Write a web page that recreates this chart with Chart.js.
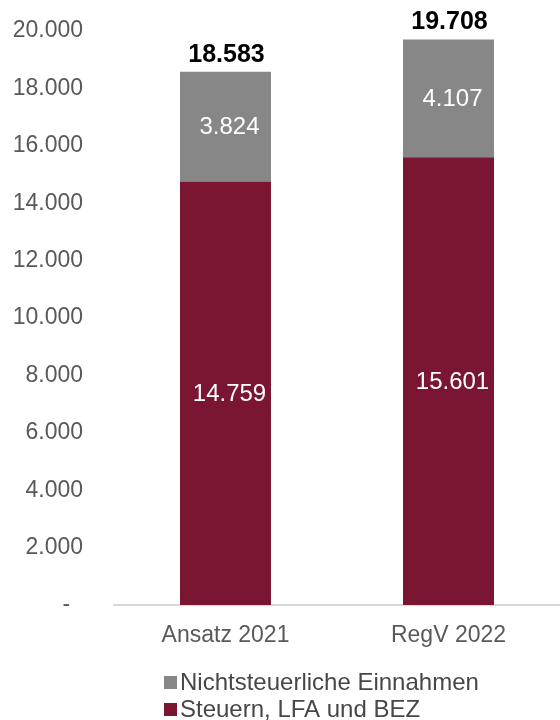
<!DOCTYPE html>
<html>
<head>
<meta charset="utf-8">
<script src="https://cdn.jsdelivr.net/npm/chart.js@4"></script>
<style>
  body { margin: 0; background: #fff; }
  #wrap { width: 560px; height: 720px; }
</style>
</head>
<body>
<div id="wrap"><canvas id="myChart" width="560" height="720"></canvas></div>
<script>
// data
const categories = ['Ansatz 2021', 'RegV 2022'];
const steuern = [14759, 15601];
const nichtsteuerlich = [3824, 4107];
const totals = [18583, 19708];
const yTicks = [0, 2000, 4000, 6000, 8000, 10000, 12000, 14000, 16000, 18000, 20000];

const legendNames = ['Nichtsteuerliche Einnahmen', 'Steuern, LFA und BEZ'];

const FONT = '"Liberation Sans", Arial, sans-serif';
const fmt = v => String(v).replace(/\B(?=(\d{3})+(?!\d))/g, '.');

// labels in the bars and totals on top
const labelPlugin = {
    id: 'labels',
    afterDatasetsDraw(chart) {
        const ctx = chart.ctx;
        ctx.save();
        ctx.textAlign = 'center';
        ctx.textBaseline = 'middle';
        ctx.fillStyle = '#ffffff';
        ctx.font = '24px ' + FONT;
        chart.data.datasets.forEach((ds, i) => {
            chart.getDatasetMeta(i).data.forEach((bar, j) => {
                ctx.fillText(fmt(ds.data[j]), bar.x + 4, (bar.y + bar.base) / 2 + 1);
            });
        });
        const y = chart.scales.y;
        const topMeta = chart.getDatasetMeta(1);
        ctx.fillStyle = '#000000';
        ctx.font = 'bold 25px ' + FONT;
        totals.forEach((t, j) => {
            ctx.fillText(fmt(t), topMeta.data[j].x + 1, y.getPixelForValue(t) - 17);
        });
        ctx.restore();
    }
};

// legend stacked on the left under the axis
const legendPlugin = {
    id: 'stackLegend',
    afterDraw(chart) {
        const ctx = chart.ctx;
        const colors = ['#878787', '#7a1632'];
        ctx.save();
        ctx.font = '24px ' + FONT;
        ctx.textBaseline = 'middle';
        ctx.textAlign = 'left';
        legendNames.forEach((name, i) => {
            const cy = 682 + i * 27;
            ctx.fillStyle = colors[i];
            ctx.fillRect(164, cy - 6, 13, 13);
            ctx.fillStyle = '#474747';
            ctx.fillText(name, 180, cy + 1);
        });
        ctx.restore();
    }
};

var ctx = document.getElementById('myChart').getContext('2d');
var chart = new Chart(ctx, {
    type: 'bar',
    data: {
        labels: categories,
        datasets: [{
            label: legendNames[1],
            backgroundColor: '#7a1632',
            data: steuern,
        }, {
            label: legendNames[0],
            backgroundColor: '#878787',
            data: nichtsteuerlich,
        }]
    },
    options: {
        responsive: false,
        animation: false,
        layout: { padding: { top: 31, right: 0, bottom: 65, left: 0 } },
        datasets: { bar: { barPercentage: 0.408, categoryPercentage: 1 } },
        plugins: {
            legend: { display: false },
            tooltip: { enabled: false }
        },
        scales: {
            x: {
                stacked: true,
                grid: { display: false, drawTicks: false },
                border: { display: true, color: '#dcd6d6', width: 2 },
                ticks: {
                    color: '#595959',
                    padding: 17,
                    font: { family: FONT, size: 23 }
                },
                afterFit: s => { s.height = 50; }
            },
            y: {
                stacked: true,
                min: 0,
                max: 20000,
                afterBuildTicks: s => { s.ticks = yTicks.map(v => ({ value: v })); },
                grid: { display: false, drawTicks: false },
                border: { display: false },
                ticks: {
                    color: '#595959',
                    padding: 31,
                    font: { family: FONT, size: 23 },
                    callback: v => v === 0 ? '-  ' : fmt(v)
                },
                afterFit: s => {
                    s.width = 114;
                    // tick padding is meant sideways only
                    s.paddingTop = 14;
                    s.paddingBottom = 14;
                }
            }
        }
    },
    plugins: [labelPlugin, legendPlugin]
});
</script>
</body>
</html>
